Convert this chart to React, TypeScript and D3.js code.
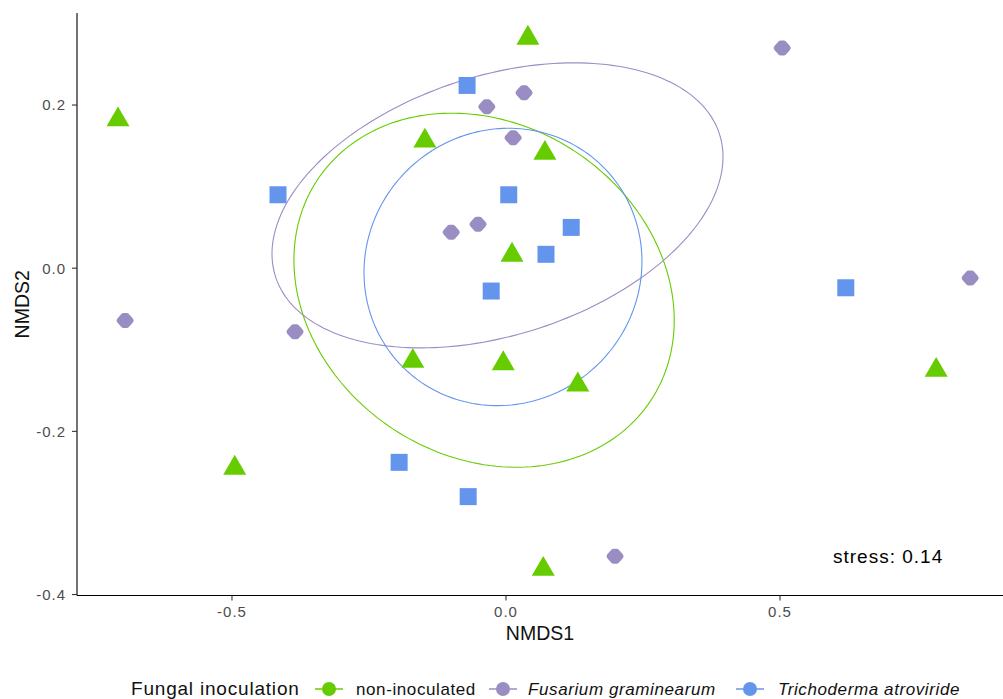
import { scaleLinear, symbol, symbolTriangle, symbolSquare, line, curveLinearClosed, range } from "d3";

// NMDS scores
const groups = ["non-inoculated", "Fusarium graminearum", "Trichoderma atroviride"];
const groupColors = ["#66CC00", "#9A8DC3", "#6495ED"];

const nonInocX = [0.040, -0.708, -0.148, 0.071, 0.011, -0.170, -0.005, 0.131, 0.785, -0.495, 0.068];
const nonInocY = [0.282, 0.182, 0.156, 0.141, 0.016, -0.114, -0.117, -0.143, -0.125, -0.245, -0.369];

const fusX = [0.504, -0.035, 0.033, 0.013, -0.100, -0.051, -0.695, -0.385, 0.847, 0.199];
const fusY = [0.270, 0.198, 0.215, 0.160, 0.044, 0.054, -0.064, -0.078, -0.012, -0.353];

const trichoX = [-0.071, -0.416, 0.005, 0.119, 0.073, -0.027, 0.620, -0.195, -0.069];
const trichoY = [0.224, 0.090, 0.090, 0.050, 0.017, -0.028, -0.024, -0.238, -0.280];

// ellipse per group: centre, half extent in x / y, correlation
const ellCx = [-0.040, -0.0155, -0.0055];
const ellCy = [-0.027, 0.077, 0.0015];
const ellRx = [0.347, 0.4115, 0.2536];
const ellRy = [0.217, 0.1747, 0.170];
const ellRho = [-0.17, 0.34, 0.04];

const xTicks = [-0.5, 0, 0.5];
const xTickLabels = ["-0.5", "0.0", "0.5"];
const yTicks = [-0.4, -0.2, 0, 0.2];
const yTickLabels = ["-0.4", "-0.2", "0.0", "0.2"];

const stressLabel = "stress: 0.14";

const W = 1003;
const H = 699;
const left = 77, right = 1003, top = 13, bottom = 595.5;

const font = "'Liberation Sans', Arial, sans-serif";

const App = () => {
  const x = scaleLinear().domain([-0.7828, 0.9069]).range([left, right]);
  const y = scaleLinear().domain([-0.4012, 0.3128]).range([bottom, top]);

  const tri = symbol().type(symbolTriangle).size(229)();
  const sq = symbol().type(symbolSquare).size(289)();
  // rounded diamond, like the reference's blurry marker
  const diamond = "M-5.5,0L-1.5,-4.5L1.5,-4.5L5.5,0L1.5,4.5L-1.5,4.5Z";

  const ellipseLine = line<[number, number]>()
    .x((d) => x(d[0]))
    .y((d) => y(d[1]))
    .curve(curveLinearClosed);

  const ellipses = groups.map((_, i) => {
    const s = Math.sqrt(1 - ellRho[i] * ellRho[i]);
    const pts = range(0, 200).map((k) => {
      const t = (k / 200) * Math.PI * 2;
      return [
        ellCx[i] + ellRx[i] * Math.cos(t),
        ellCy[i] + ellRy[i] * (ellRho[i] * Math.cos(t) + s * Math.sin(t)),
      ] as [number, number];
    });
    return ellipseLine(pts);
  });

  const legendKeys = [329, 503, 750];
  const legendLabelX = [356, 528, 778];

  return (
    <svg width={W} height={H} style={{ position: "absolute", left: 0, top: 0, background: "#fff" }}>
      {/* ellipses */}
      {ellipses.map((d, i) => (
        <path key={i} d={d ?? ""} fill="none" stroke={groupColors[i]} strokeWidth={1.1} />
      ))}

      {/* points */}
      {nonInocX.map((v, i) => (
        <path key={"g" + i} d={tri ?? ""} transform={`translate(${x(v)},${y(nonInocY[i])})`} fill={groupColors[0]} />
      ))}
      {fusX.map((v, i) => (
        <path key={"p" + i} d={diamond} transform={`translate(${x(v)},${y(fusY[i])})`}
          fill={groupColors[1]} stroke={groupColors[1]} strokeWidth={6} strokeLinejoin="round" />
      ))}
      {trichoX.map((v, i) => (
        <path key={"b" + i} d={sq ?? ""} transform={`translate(${x(v)},${y(trichoY[i])})`} fill={groupColors[2]} />
      ))}

      {/* axes */}
      <line x1={left} x2={left} y1={top} y2={bottom} stroke="#000" strokeWidth={1.1} />
      <line x1={left} x2={right} y1={bottom} y2={bottom} stroke="#000" strokeWidth={1.1} />
      {xTicks.map((t, i) => (
        <g key={"xt" + i}>
          <line x1={x(t)} x2={x(t)} y1={bottom} y2={bottom + 5} stroke="#333" strokeWidth={1.1} />
          <text x={x(t)} y={617} textAnchor="middle" fontFamily={font} fontSize={15} letterSpacing={1} fill="#4D4D4D">
            {xTickLabels[i]}
          </text>
        </g>
      ))}
      {yTicks.map((t, i) => (
        <g key={"yt" + i}>
          <line x1={left - 5} x2={left} y1={y(t)} y2={y(t)} stroke="#333" strokeWidth={1.1} />
          <text x={66} y={y(t)} dy="0.36em" textAnchor="end" fontFamily={font} fontSize={15} letterSpacing={1} fill="#4D4D4D">
            {yTickLabels[i]}
          </text>
        </g>
      ))}

      <text x={(left + right) / 2} y={640} textAnchor="middle" fontFamily={font} fontSize={19.5} fill="#111">NMDS1</text>
      <text transform={`translate(29,${(top + bottom) / 2}) rotate(-90)`} textAnchor="middle" fontFamily={font} fontSize={19.5} fill="#111">NMDS2</text>

      <text x={833} y={563} fontFamily={font} fontSize={19} letterSpacing={1} fill="#000">{stressLabel}</text>

      {/* legend */}
      <text x={131} y={695} fontFamily={font} fontSize={19} letterSpacing={0.8} fill="#111">Fungal inoculation</text>
      {groups.map((g, i) => (
        <g key={"lg" + i}>
          <line x1={legendKeys[i] - 14} x2={legendKeys[i] + 14} y1={689} y2={689} stroke={groupColors[i]} strokeWidth={1.5} />
          <circle cx={legendKeys[i]} cy={689} r={7} fill={groupColors[i]} />
          <text x={legendLabelX[i]} y={695} fontFamily={font} fontSize={17} letterSpacing={0.6}
            fontStyle={i === 0 ? "normal" : "italic"} fill="#111">{g}</text>
        </g>
      ))}
    </svg>
  );
};

export default App;
